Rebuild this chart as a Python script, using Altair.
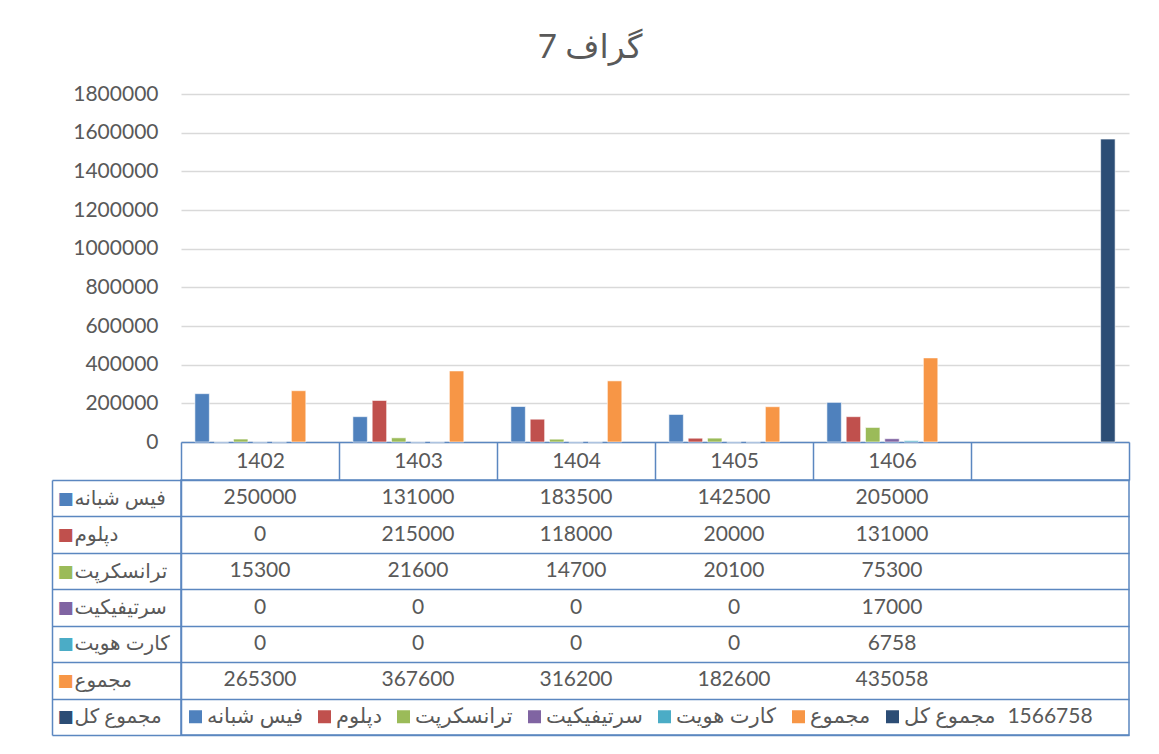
import altair as alt
import pandas as pd

# ---- data ----
years = ["1402", "1403", "1404", "1405", "1406"]
total_col = "کل"
categories = years + [total_col]
series = ["فیس شبانه", "دپلوم", "ترانسکرپت", "سرتیفیکیت", "کارت هویت", "مجموع", "مجموع کل"]
colors = ["#4F81BD", "#C0504D", "#9BBB59", "#8064A2", "#4BACC6", "#F79646", "#2C4D75"]

fees = [250000, 131000, 183500, 142500, 205000]
diploma = [0, 215000, 118000, 20000, 131000]
transcript = [15300, 21600, 14700, 20100, 75300]
certificate = [0, 0, 0, 0, 17000]
id_card = [0, 0, 0, 0, 6758]
subtotal = [265300, 367600, 316200, 182600, 435058]
grand_total = 1566758

per_year = [fees, diploma, transcript, certificate, id_card, subtotal]

rows = []
for s, vals in zip(series[:6], per_year):
    for y, v in zip(years, vals):
        rows.append({"cat": y, "series": s, "value": v, "text": str(v)})
rows.append({"cat": total_col, "series": series[6], "value": grand_total, "text": str(grand_total)})
df = pd.DataFrame(rows)

FONT = "Lato, DejaVu Sans"
GRAY = "#595959"
BLUE = "#5B87C0"

W = 948
BAR_H = 348
TAB_H = 255

cat_label_expr = f"datum.value == '{total_col}' ? '' : datum.value"

bars = alt.Chart(df).mark_bar(stroke="white", strokeWidth=0.6).encode(
    x=alt.X("cat:N", sort=categories,
            scale=alt.Scale(domain=categories, paddingInner=0, paddingOuter=0),
            axis=alt.Axis(title=None, orient="bottom", labelExpr=cat_label_expr,
                          labelFont=FONT, labelFontSize=21, labelColor=GRAY,
                          labelPadding=-19, labelBaseline="middle", labelAngle=0,
                          domainColor=BLUE, domainWidth=1.5,
                          ticks=True, tickBand="extent", tickSize=38,
                          tickColor=BLUE, tickWidth=1.5, grid=False)),
    xOffset=alt.XOffset("series:N", sort=series,
                        scale=alt.Scale(domain=series, paddingInner=0.25, paddingOuter=0.72)),
    y=alt.Y("value:Q", scale=alt.Scale(domain=[0, 1800000]),
            axis=alt.Axis(title=None, values=list(range(0, 1800001, 200000)),
                          format="d", labelFont=FONT, labelFontSize=21, labelColor=GRAY,
                          labelPadding=23, ticks=False, domain=False,
                          gridColor="#D9D9D9", gridWidth=1.5)),
    color=alt.Color("series:N", sort=series,
                    scale=alt.Scale(domain=series, range=colors),
                    legend=alt.Legend(title=None, orient="none", direction="horizontal",
                                      legendX=4, legendY=612,
                                      symbolType="square", symbolSize=169,
                                      symbolStrokeWidth=0, labelFont=FONT,
                                      labelFontSize=21, labelColor=GRAY,
                                      labelOffset=1, columnPadding=11,
                                      labelLimit=300)),
).properties(width=W, height=BAR_H, view=alt.ViewBackground(stroke=None))

# ---- table ----
label_color_conditions = [
    {"test": f"datum.value == '{s}'", "value": c} for s, c in zip(series, colors)
]

cells = alt.Chart(df).mark_text(font=FONT, fontSize=21, color=GRAY).encode(
    x=alt.X("cat:N", sort=categories,
            scale=alt.Scale(domain=categories, paddingInner=0, paddingOuter=0),
            axis=alt.Axis(title=None, labels=False, ticks=False, domain=False,
                          grid=True, tickBand="extent", gridColor=BLUE, gridWidth=1.5)),
    y=alt.Y("series:N", sort=series,
            scale=alt.Scale(domain=series, paddingInner=0, paddingOuter=0),
            axis=alt.Axis(title=None, orient="left", labelFont=FONT, labelFontSize=20,
                          labelColor=GRAY, labelAlign="left", labelPadding=-22,
                          labelLimit=300, domainColor=BLUE, domainWidth=1.5,
                          ticks=True, tickBand="extent", tickSize=129, tickColor=BLUE,
                          tickWidth=1.5, grid=True, gridColor=BLUE, gridWidth=1.5)),
    text="text:N",
)

squares = alt.Chart(df).mark_text(text="").encode(
    x=alt.X("cat:N", sort=categories,
            scale=alt.Scale(domain=categories, paddingInner=0, paddingOuter=0),
            axis=None),
    y=alt.Y("series:N", sort=series,
            scale=alt.Scale(domain=series, paddingInner=0, paddingOuter=0),
            axis=alt.Axis(title=None, orient="left", offset=129, labelExpr="'■'",
                          labelFont="DejaVu Sans", labelFontSize=17,
                          labelColor={"condition": label_color_conditions, "value": GRAY},
                          labelAlign="left", labelPadding=-5, ticks=False, grid=False,
                          domainColor=BLUE, domainWidth=1.5)),
)

table = alt.layer(cells, squares).resolve_scale(y="independent").resolve_axis(
    y="independent").properties(
    width=W, height=TAB_H, view=alt.ViewBackground(stroke=BLUE, strokeWidth=1.5))

chart = alt.vconcat(bars, table, spacing=38, bounds="flush").properties(
    title=alt.TitleParams("گراف 7", font=FONT, fontSize=33, fontWeight="normal",
                          color=GRAY, anchor="middle", offset=18),
    padding={"left": 42, "top": 24, "right": 20, "bottom": 10},
).configure_view(strokeWidth=1.5)

chart.save("out.html", embed_options={"renderer": "svg", "actions": False})
